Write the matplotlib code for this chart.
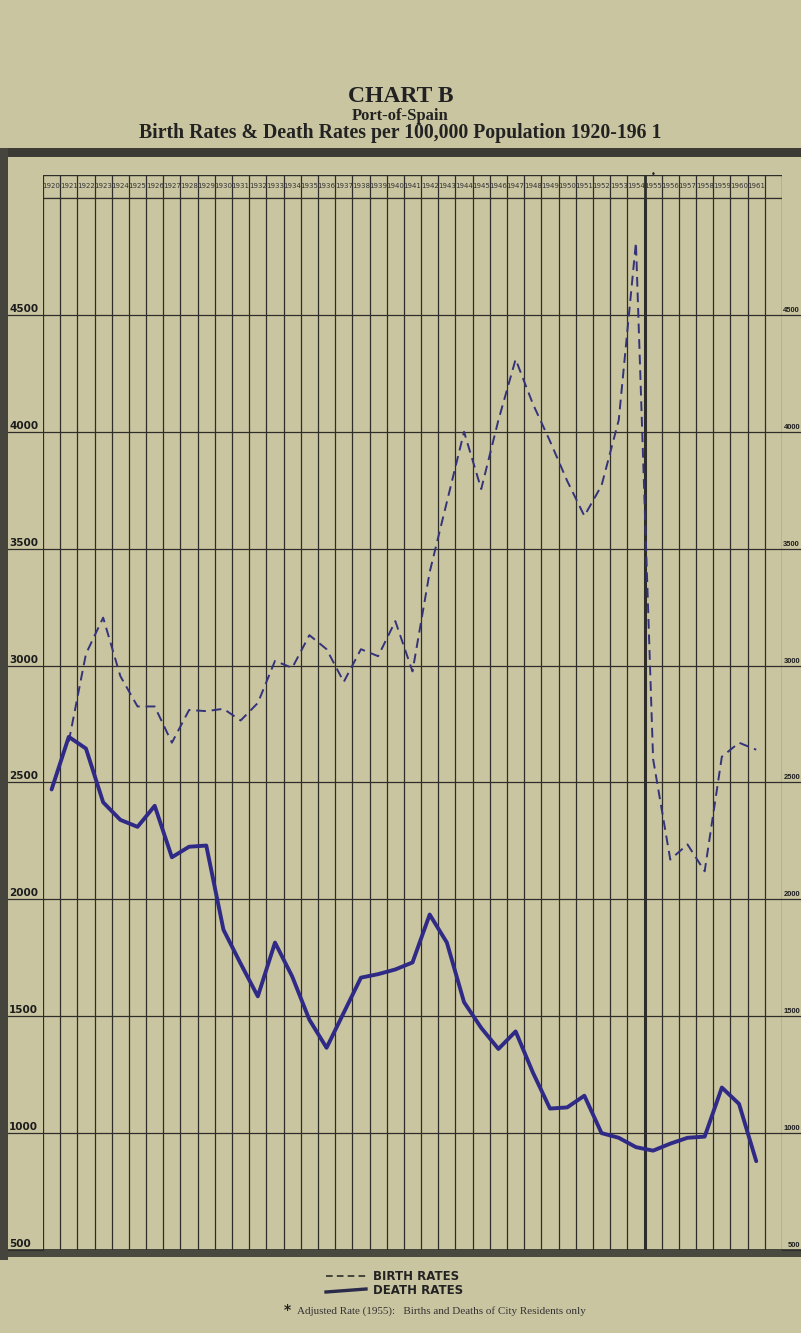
import matplotlib
matplotlib.use("Agg")
import matplotlib.pyplot as plt
from matplotlib.patches import Rectangle
from matplotlib.lines import Line2D

# ---------------- data ----------------
years = list(range(1920, 1962))
birth_years = list(range(1921, 1962))
birth_rates = [2675, 3050, 3205, 2955, 2825, 2825, 2670, 2810, 2805, 2815,
               2765, 2840, 3020, 2990, 3130, 3070, 2930, 3070, 3040, 3190,
               2975, 3400, 3700, 4000, 3755, 4050, 4310, 4120, 3960, 3790,
               3640, 3770, 4050, 4810, 2600, 2170, 2235, 2120, 2610, 2670,
               2640]
death_rates = [2470, 2695, 2645, 2415, 2340, 2310, 2400, 2180, 2225, 2230,
               1870, 1725, 1585, 1815, 1670, 1485, 1365, 1515, 1665, 1680,
               1700, 1730, 1935, 1815, 1560, 1450, 1360, 1435, 1260, 1105,
               1110, 1160, 1000, 980, 940, 925, 955, 980, 985, 1195,
               1125, 880]
y_ticks = [500, 1000, 1500, 2000, 2500, 3000, 3500, 4000, 4500]
title_lines = ["CHART B", "Port-of-Spain",
               "Birth Rates & Death Rates per 100,000 Population 1920-196 1"]

W, H = 801, 1333
paper = "#c9c5a1"
ink = "#2e2d29"
blue_b = "#34337a"
blue_d = "#2f2a86"

fig = plt.figure(figsize=(W / 100, H / 100), dpi=100, facecolor=paper)

def fx(px):
    return px / W

def fy(py):
    return 1 - py / H

# background overlay axes (pixel coordinates)
bg = fig.add_axes([0, 0, 1, 1], zorder=0)
bg.set_xlim(0, W)
bg.set_ylim(H, 0)
bg.axis("off")
bg.add_patch(Rectangle((0, 148), W, 9, color="#3b3a35", lw=0))
bg.add_patch(Rectangle((0, 148), 8, 1112, color="#45443d", lw=0))
bg.add_patch(Rectangle((8, 1249), W - 8, 8, color="#4a4940", lw=0))

# title
fig.text(0.5, fy(97), title_lines[0], ha="center", va="center",
         fontsize=17, fontweight="bold", family="Liberation Serif", color="#222")
fig.text(0.5, fy(116), title_lines[1], ha="center", va="center",
         fontsize=12, fontweight="bold", family="Liberation Serif", color="#222")
fig.text(0.5, fy(133), title_lines[2], ha="center", va="center",
         fontsize=14.2, fontweight="bold", family="Liberation Serif", color="#222")

# main axes
L, R, T, B = 43, 782, 198, 1250
ax = fig.add_axes([fx(L), fy(B), fx(R - L), fy(T) - fy(B)], zorder=2)
ax.set_facecolor("none")
ax.set_xlim(-0.5, 42.5)
ax.set_ylim(500, 5000)
ax.axis("off")

ncols = 43
for i in range(ncols + 1):
    xb = i - 0.5
    lw = 2.2 if i == 35 else 0.9
    ax.axvline(xb, color=ink, lw=lw, zorder=1)
for v in y_ticks + [5000]:
    ax.axhline(v, color=ink, lw=0.9, zorder=1)

xb = [y - 1920 for y in birth_years]
xd = [y - 1920 for y in years]
ax.plot(xb, birth_rates, color=blue_b, lw=1.4, ls=(0, (5, 3)), zorder=3)
ax.plot(xd, death_rates, color=blue_d, lw=2.8, solid_joinstyle="round",
        solid_capstyle="round", zorder=3)

# horizontal lines into side margins and value labels
for v in y_ticks:
    py = T + (5000 - v) / 4500 * (B - T)
    bg.plot([8, L], [py, py], color=ink, lw=0.9)
    bg.plot([R, W], [py, py], color=ink, lw=0.9)
    bg.text(9, py - 1, str(v), ha="left", va="bottom", fontsize=7.5,
            fontweight="bold", family="DejaVu Sans", color="#1c1c1c")
    bg.text(W - 1, py - 1, str(v), ha="right", va="bottom", fontsize=5.4,
            fontweight="bold", family="Liberation Sans", color="#1c1c1c")

# header row
hax = fig.add_axes([fx(L), fy(T), fx(R - L), fy(175) - fy(T)], zorder=2)
hax.set_xlim(-0.5, 42.5)
hax.set_ylim(0, 1)
hax.axis("off")
hax.axhline(1, color=ink, lw=1.0)
hax.axhline(0, color=ink, lw=1.0)
for i in range(ncols + 1):
    hax.axvline(i - 0.5, color=ink, lw=2.0 if i == 35 else 0.9)
for i, y in enumerate(years):
    hax.text(i, 0.5, str(y), ha="center", va="center", fontsize=5,
             family="DejaVu Sans", color="#333")
hax.text(35, 1.02, "•", ha="center", va="center", fontsize=6, color="#222")

# legend
bg.add_line(Line2D([326, 366], [1276, 1276], color=ink, lw=1.2, ls=(0, (4, 2.5))))
bg.text(373, 1276, "BIRTH RATES", ha="left", va="center", fontsize=8.5,
        fontweight="bold", family="DejaVu Sans", color="#222")
bg.add_line(Line2D([326, 366], [1292, 1289], color="#2a2a4a", lw=2.4))
bg.text(373, 1290, "DEATH RATES", ha="left", va="center", fontsize=8.5,
        fontweight="bold", family="DejaVu Sans", color="#222")
bg.text(284, 1310, "*", ha="left", va="center", fontsize=10,
        fontweight="bold", family="DejaVu Sans", color="#222")
bg.text(297, 1311, "Adjusted Rate (1955):   Births and Deaths of City Residents only",
        ha="left", va="center", fontsize=8, family="Liberation Serif", color="#333")

fig.savefig("out.png", dpi=100, facecolor=paper)
